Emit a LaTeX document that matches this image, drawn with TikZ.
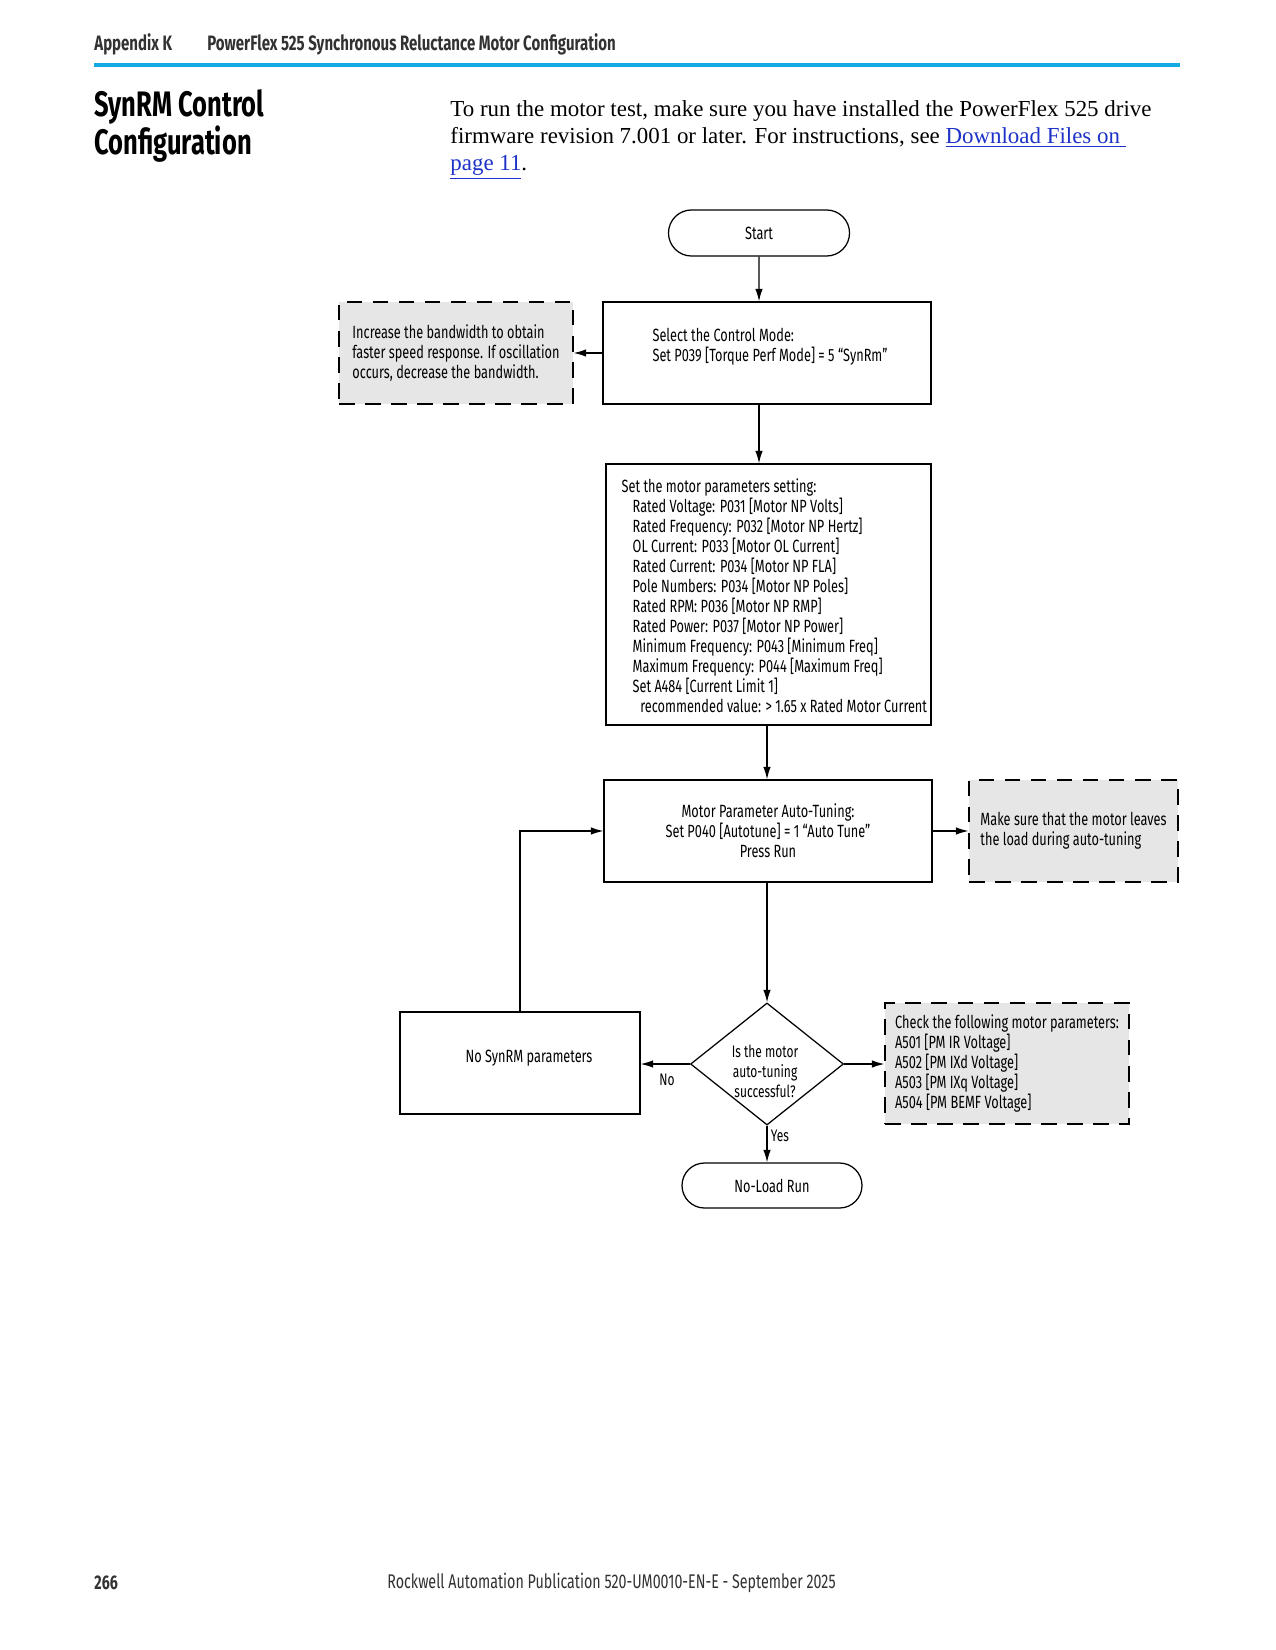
\documentclass[tikz,border=0pt]{standalone}
\usepackage{fontspec}
\setmainfont{Liberation Serif}
\setsansfont[FakeStretch=0.72]{Fira Sans}
\usetikzlibrary{arrows.meta,shapes.geometric,shapes.misc}
\definecolor{rulecyan}{RGB}{20,170,225}
\definecolor{notegray}{RGB}{230,230,231}
\definecolor{linkblue}{RGB}{30,50,200}
\definecolor{hdrgray}{RGB}{50,50,50}

\begin{document}
\begin{tikzpicture}[x=0.48pt,y=-0.48pt,
  flow/.style={draw, line width=0.6pt, font=\sffamily\fontsize{8.5}{9.6}\selectfont, align=left, inner sep=0pt},
  term/.style={flow, rounded rectangle, minimum width=86.9pt, minimum height=22.1pt},
  stepbox/.style={flow, rectangle, minimum width=157.4pt, minimum height=49pt},
  notebox/.style={flow, rectangle, dash pattern=on 7.5pt off 5pt, fill=notegray},
  decide/.style={flow, diamond, align=center, minimum width=73.4pt, minimum height=58.6pt, font=\sffamily\fontsize{8}{9.6}\selectfont},
  arr/.style={line width=0.6pt, -{Latex[length=6pt,width=3.6pt]}},
  lbl/.style={font=\sffamily\fontsize{8}{9}\selectfont, inner sep=0pt},
  pagetxt/.style={anchor=west, inner sep=0pt, text=hdrgray}]
\useasboundingbox (0,0) rectangle (1275,1650);
\fill[white] (0,0) rectangle (1275,1650);
% page header
\node[pagetxt, font=\sffamily\bfseries\fontsize{10}{11}\selectfont] (appx) at (94,44) {Appendix K};
\node[pagetxt, font=\sffamily\bfseries\fontsize{10}{11}\selectfont] (chap) at (207,44) {PowerFlex 525 Synchronous Reluctance Motor Configuration};
\draw[rulecyan, line width=2pt] (94,65) -- (1180,65);
\node[anchor=west, align=left, inner sep=0pt, font=\sffamily\bfseries\fontsize{17}{16.8}\selectfont] (title) at (94,126) {SynRM Control\\Configuration};
\node[anchor=west, align=left, inner sep=0pt, font=\fontsize{11}{13.1}\selectfont] (intro) at (450,140) {To run the motor test, make sure you have installed the PowerFlex 525 drive\\firmware revision 7.001 or later. For instructions, see \textcolor{linkblue}{\underline{Download Files on\ }}\\\textcolor{linkblue}{\underline{page 11}}.};
% flowchart
\node[term] (start) at (759,233) {Start};
\node[stepbox] (mode) at (767,353) {};
\node[lbl, align=left, font=\sffamily\fontsize{8.5}{9.6}\selectfont] (modetxt) at (770,347) {Select the Control Mode:\\Set P039 [Torque Perf Mode] = 5 “SynRm”};
\node[notebox, minimum width=112.3pt, minimum height=49pt] (bwnote) at (456,353) {Increase the bandwidth to obtain\\faster speed response. If oscillation\\occurs, decrease the bandwidth.};
\node[flow, minimum width=156pt, minimum height=125.3pt] (param) at (768.5,594.5) {};
\node[flow, draw=none, anchor=west] (paramtxt) at (621,596) {Set the motor parameters setting:\\
\hspace*{5.3pt}Rated Voltage: P031 [Motor NP Volts]\\
\hspace*{5.3pt}Rated Frequency: P032 [Motor NP Hertz]\\
\hspace*{5.3pt}OL Current: P033 [Motor OL Current]\\
\hspace*{5.3pt}Rated Current: P034 [Motor NP FLA]\\
\hspace*{5.3pt}Pole Numbers: P034 [Motor NP Poles]\\
\hspace*{5.3pt}Rated RPM: P036 [Motor NP RMP]\\
\hspace*{5.3pt}Rated Power: P037 [Motor NP Power]\\
\hspace*{5.3pt}Minimum Frequency: P043 [Minimum Freq]\\
\hspace*{5.3pt}Maximum Frequency: P044 [Maximum Freq]\\
\hspace*{5.3pt}Set A484 [Current Limit 1]\\
\hspace*{9pt}recommended value: > 1.65 x Rated Motor Current};
\node[stepbox, align=center] (tune) at (768,831) {Motor Parameter Auto-Tuning:\\Set P040 [Autotune] = 1 “Auto Tune”\\Press Run};
\node[notebox, minimum width=100.3pt, minimum height=49pt] (loadnote) at (1073.5,831) {Make sure that the motor leaves\\the load during auto-tuning};
\node[decide] (ok) at (767,1064) {};
\node[lbl, align=center, font=\sffamily\fontsize{8}{9.6}\selectfont] (oktxt) at (765,1071) {Is the motor\\auto-tuning\\successful?};
\node[flow, minimum width=115.2pt, minimum height=49pt] (nosyn) at (520,1063) {};
\node[lbl, font=\sffamily\fontsize{8.5}{9.6}\selectfont] (nosyntxt) at (529,1058) {No SynRM parameters};
\node[notebox, minimum width=117.1pt, minimum height=58.1pt] (check) at (1007,1063.5) {Check the following motor parameters:\\A501 [PM IR Voltage]\\A502 [PM IXd Voltage]\\A503 [PM IXq Voltage]\\A504 [PM BEMF Voltage]};
\node[term, minimum width=86.4pt, minimum height=21.6pt] (noload) at (772,1185.5) {No-Load Run};
\node[lbl] (nolbl) at (667,1080) {No};
\node[lbl] (yeslbl) at (780,1136) {Yes};
\draw[arr] (start) -- (start |- mode.north);
\draw[arr] (mode) -- (bwnote);
\draw[arr] (start |- mode.south) -- (start |- param.north);
\draw[arr] (ok |- param.south) -- (ok |- tune.north);
\draw[arr] (tune) -- (loadnote);
\draw[arr] (ok |- tune.south) -- (ok.north);
\draw[arr] (ok.west) -- (ok -| nosyn.east);
\draw[arr] (ok.east) -- (ok -| check.west);
\draw[arr] (ok.south) -- (ok |- noload.north);
\draw[arr] (nosyn) |- (tune);
% page footer
\node[pagetxt, font=\sffamily\bfseries\fontsize{9.5}{11}\selectfont] (pagenum) at (94,1583) {266};
\node[pagetxt, font=\sffamily\fontsize{9.5}{11}\selectfont] (pub) at (387,1583) {Rockwell Automation Publication 520-UM0010-EN-E - September 2025};
\end{tikzpicture}
\end{document}
